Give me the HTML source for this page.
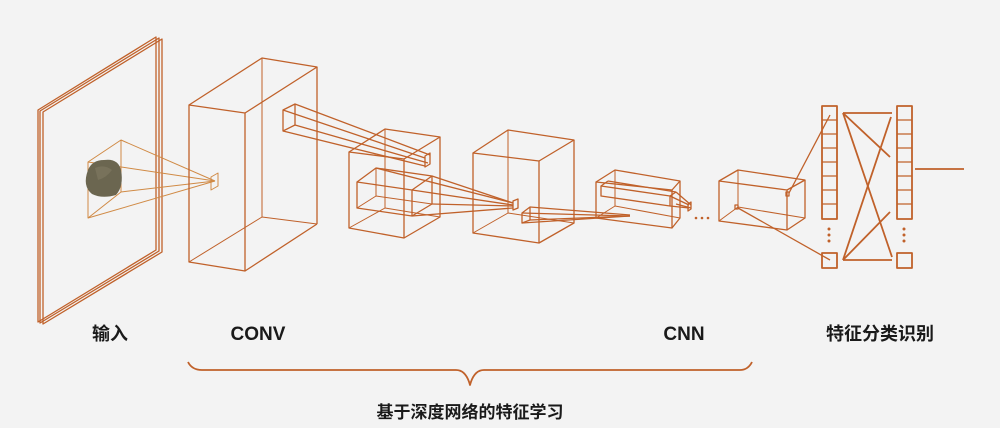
<!DOCTYPE html>
<html><head><meta charset="utf-8"><style>
html,body{margin:0;padding:0;background:#f3f3f3;}
svg{display:block}
text{font-family:"Liberation Sans","Noto Sans CJK SC",sans-serif;fill:#1a1a1a;font-weight:600}
</style></head><body>
<svg width="1000" height="428" viewBox="0 0 1000 428" xmlns="http://www.w3.org/2000/svg">
<rect width="1000" height="428" fill="#f3f3f3"/>
<g fill="none" stroke="#c0612a" stroke-width="1.3" stroke-linejoin="round">
<polygon points="38,110 156,37 156,250 38,322"/>
<polygon points="40,111 159,38 159,251 40,323"/>
<polygon points="43,112 162,39 162,252 43,324"/>
<g stroke="#d08a45" stroke-width="1">
<polygon points="88,162 121,140 121,192 88,218"/>
<line x1="88" y1="162" x2="215" y2="181"/>
<line x1="121" y1="140" x2="215" y2="181"/>
<line x1="121" y1="192" x2="215" y2="181"/>
<line x1="88" y1="218" x2="215" y2="181"/>
<polygon points="211,177 218,173 218,186 211,190"/>
</g>
<polygon points="189,105 245,113 245,271 189,262"/>
<polyline points="189,105 262,58 317,67 245,113"/>
<line x1="317" y1="67" x2="317" y2="224"/><line x1="317" y1="224" x2="245" y2="271"/>
<polyline points="189,262 262,217 317,224" stroke-width="1"/>
<line x1="262" y1="58" x2="262" y2="217" stroke-width="1"/>
<polygon points="283,110 295,104 295,125 283,131"/>
<line x1="283" y1="110" x2="425" y2="158"/><line x1="295" y1="104" x2="430" y2="155"/>
<line x1="283" y1="131" x2="425" y2="166"/><line x1="295" y1="125" x2="428" y2="163"/>
<polygon points="349,152 404,159 404,238 349,228"/>
<polyline points="349,152 385,129 440,137 404,159"/>
<polyline points="440,137 440,217 404,238"/>
<polyline points="349,228 385,208 440,217" stroke-width="1"/>
<line x1="385" y1="129" x2="385" y2="208" stroke-width="1"/>
<polygon points="425,156 430,153 430,164 425,167"/>
<polygon points="357,182 412,190 412,216 357,208"/>
<polyline points="357,182 376,168 432,176 412,190"/>
<polyline points="432,176 432,204 412,216"/>
<line x1="376" y1="168" x2="376" y2="196" stroke-width="1"/><polyline points="357,208 376,196 432,204" stroke-width="1"/>
<line x1="432" y1="176" x2="513" y2="203"/><line x1="412" y1="190" x2="513" y2="205"/>
<line x1="412" y1="216" x2="513" y2="208"/><line x1="432" y1="204" x2="513" y2="206"/>
<line x1="376" y1="168" x2="513" y2="203"/>
<polygon points="513,201 518,199 518,208 513,210"/>
<polygon points="473,153 539,161 539,243 473,233"/>
<polyline points="473,153 508,130 574,140 539,161"/>
<polyline points="574,140 574,223 539,243"/>
<polyline points="473,233 508,213 574,223" stroke-width="1"/>
<line x1="508" y1="130" x2="508" y2="213" stroke-width="1"/>
<polygon points="522,213 530,207 530,220 522,223"/>
<line x1="530" y1="207" x2="630" y2="215"/><line x1="522" y1="213" x2="630" y2="216"/>
<line x1="522" y1="223" x2="630" y2="216"/><line x1="530" y1="220" x2="630" y2="216"/>
<polygon points="596,182 672,190 672,228 596,218"/>
<polyline points="596,182 615,170 680,181 672,190"/>
<polyline points="680,181 680,218 672,228"/>
<line x1="615" y1="170" x2="615" y2="206" stroke-width="1"/><polyline points="596,218 615,206 680,218" stroke-width="1"/>
<polygon points="601,186 670,196 670,206 601,196"/>
<line x1="601" y1="186" x2="608" y2="181"/><line x1="608" y1="181" x2="676" y2="192"/><line x1="670" y1="196" x2="676" y2="192"/>
<line x1="670" y1="196" x2="689" y2="205"/><line x1="676" y1="192" x2="691" y2="205"/><line x1="670" y1="206" x2="689" y2="208"/><line x1="676" y1="204" x2="691" y2="208"/>
<polygon points="688,204 691,202 691,209 688,211"/>
<polygon points="719,181 787,190 787,230 719,221"/>
<polyline points="719,181 738,170 805,180 787,190"/>
<polyline points="805,180 805,218 787,230"/>
<line x1="738" y1="170" x2="738" y2="207" stroke-width="1"/><polyline points="719,221 738,207 805,218" stroke-width="1"/>
<rect x="786" y="192" width="3" height="4"/>
<rect x="735" y="205" width="3" height="4"/>
<line x1="789" y1="193" x2="830" y2="115"/>
<line x1="738" y1="208" x2="830" y2="260"/>
<g stroke-width="1.8">
<rect x="822" y="106" width="15" height="113"/>
<rect x="822" y="253" width="15" height="15"/>
<rect x="897" y="106" width="15" height="113"/>
<rect x="897" y="253" width="15" height="15"/>
<path d="M822 120H837M822 134H837M822 148H837M822 162H837M822 176H837M822 190H837M822 204H837M897 120H912M897 134H912M897 148H912M897 162H912M897 176H912M897 190H912M897 204H912" stroke-width="1.3"/>
<line x1="843" y1="113" x2="892" y2="113"/>
<line x1="843" y1="113" x2="890" y2="157"/>
<line x1="843" y1="113" x2="892" y2="257"/>
<line x1="843" y1="260" x2="891" y2="117"/>
<line x1="843" y1="260" x2="890" y2="212"/>
<line x1="843" y1="260" x2="892" y2="260"/>
<line x1="915" y1="169" x2="964" y2="169"/>
</g>
<path d="M188,362 Q192,370 202,370 L456,370 Q466,370 470,385 Q474,370 484,370 L740,370 Q748,370 752,362" stroke-width="1.8"/>
</g>
<path d="M88,170 Q92,160 104,160 Q118,158 121,170 Q124,186 116,195 Q102,199 92,194 Q82,186 88,170Z" fill="#6b6650"/>
<path d="M95,168 Q104,164 112,170 Q106,178 98,180Z" fill="#7d7860" opacity=".7"/>
<g fill="#c0612a">
<circle cx="696" cy="218" r="1.3"/><circle cx="702" cy="218" r="1.3"/><circle cx="708" cy="218" r="1.3"/>
<circle cx="829" cy="229" r="1.5"/><circle cx="829" cy="235" r="1.5"/><circle cx="829" cy="241" r="1.5"/>
<circle cx="904" cy="229" r="1.5"/><circle cx="904" cy="235" r="1.5"/><circle cx="904" cy="241" r="1.5"/>
</g>
<text x="110" y="340" font-size="18" text-anchor="middle">输入</text>
<text x="258" y="340" font-size="19" text-anchor="middle">CONV</text>
<text x="684" y="340" font-size="19" text-anchor="middle">CNN</text>
<text x="880" y="340" font-size="18" text-anchor="middle">特征分类识别</text>
<text x="470" y="418" font-size="17" text-anchor="middle">基于深度网络的特征学习</text>
</svg>
</body></html>
